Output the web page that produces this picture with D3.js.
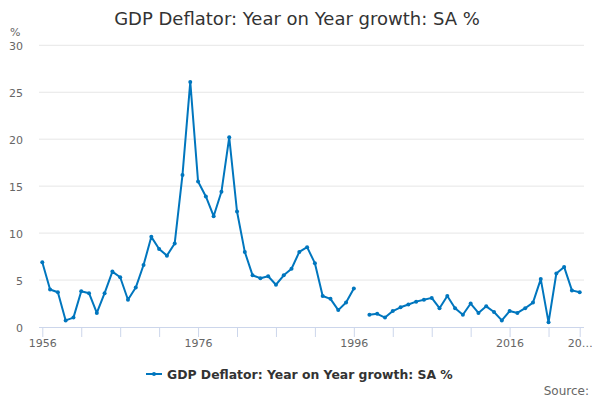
<!DOCTYPE html>
<html>
<head>
<meta charset="utf-8">
<script src="https://cdn.jsdelivr.net/npm/d3@7"></script>
<style>
  html, body { margin: 0; padding: 0; background: #fff; }
  svg { display: block; font-family: "DejaVu Sans", sans-serif; }
</style>
</head>
<body>
<svg id="chart" width="600" height="400"></svg>
<script>
const title = "GDP Deflator: Year on Year growth: SA %";
const seriesName = "GDP Deflator: Year on Year growth: SA %";
const years = d3.range(1956, 2026);
const values = [
  6.9, 4.0, 3.7, 0.7, 1.0, 3.8, 3.6, 1.5, 3.6, 5.9,
  5.3, 2.9, 4.2, 6.6, 9.6, 8.3, 7.6, 8.9, 16.2, 26.1,
  15.5, 13.9, 11.8, 14.4, 20.2, 12.3, 8.0, 5.5, 5.2, 5.4,
  4.5, 5.5, 6.2, 8.0, 8.5, 6.8, 3.3, 3.0, 1.8, 2.6,
  4.1, null, 1.3, 1.4, 1.0, 1.7, 2.1, 2.4, 2.7, 2.9,
  3.1, 2.0, 3.3, 2.0, 1.3, 2.5, 1.5, 2.2, 1.6, 0.7,
  1.7, 1.5, 2.0, 2.6, 5.1, 0.5, 5.7, 6.4, 3.9, 3.7
];
const yTicks = [0, 5, 10, 15, 20, 25, 30];
const xTicks = [1956, 1961, 1966, 1971, 1976, 1981, 1986, 1991, 1996, 2001, 2006, 2011, 2016, 2021, 2025];
const xLabels = {1956: "1956", 1976: "1976", 1996: "1996", 2016: "2016", 2025: "20…"};

const data = years.map((y, i) => ({year: y, value: values[i]}));
const svg = d3.select("#chart");
const color = "#0076BE";

const x = d3.scaleLinear().domain([1956, 2025]).range([42.3, 579.7]);
const y = d3.scaleLinear().domain([0, 30]).range([327, 45.3]);
const plotLeft = 39, plotRight = 584;

// gridlines
svg.append("g").selectAll("line").data(yTicks.filter(t => t > 0)).join("line")
  .attr("x1", plotLeft).attr("x2", plotRight)
  .attr("y1", d => y(d)).attr("y2", d => y(d))
  .attr("stroke", "#e6e6e6").attr("stroke-width", 1);

// y labels
svg.append("g").selectAll("text").data(yTicks).join("text")
  .attr("x", 23).attr("y", d => y(d) + 4.5)
  .attr("text-anchor", "end")
  .attr("font-size", 11).attr("fill", "#666")
  .text(d => d);

svg.append("text").attr("x", 10).attr("y", 36)
  .attr("font-size", 11).attr("fill", "#666").text("%");

// x axis
const xAxis = d3.axisBottom(x).tickValues(xTicks).tickSize(10).tickSizeOuter(0)
  .tickFormat(d => xLabels[d] || "");
const gx = svg.append("g").attr("transform", "translate(0,327)").call(xAxis);
gx.select(".domain").attr("d", `M${plotLeft},0.5H${plotRight}`).attr("stroke", "#ccd6eb");
gx.selectAll(".tick line").attr("stroke", "#ccd6eb");
gx.selectAll(".tick text").attr("font-family", "DejaVu Sans, sans-serif")
  .attr("font-size", 11).attr("fill", "#666").attr("y", 12).attr("dy", "0.71em");

// line
const line = d3.line().defined(d => d.value != null)
  .x(d => x(d.year)).y(d => y(d.value));
svg.append("path").datum(data).attr("d", line)
  .attr("fill", "none").attr("stroke", color).attr("stroke-width", 2)
  .attr("stroke-linejoin", "round").attr("stroke-linecap", "round");

svg.append("g").selectAll("circle").data(data.filter(d => d.value != null)).join("circle")
  .attr("cx", d => x(d.year)).attr("cy", d => y(d.value)).attr("r", 2)
  .attr("fill", color);

// title
svg.append("text").attr("x", 297).attr("y", 25).attr("text-anchor", "middle")
  .attr("font-size", 18).attr("fill", "#333").text(title);

// legend
const lg = svg.append("g");
lg.append("line").attr("x1", 146).attr("x2", 162).attr("y1", 374).attr("y2", 374)
  .attr("stroke", color).attr("stroke-width", 2);
lg.append("circle").attr("cx", 154).attr("cy", 374).attr("r", 2).attr("fill", color);
lg.append("text").attr("x", 167).attr("y", 378.5)
  .attr("font-size", 12.4).attr("font-weight", "bold").attr("fill", "#333").text(seriesName);

// source
svg.append("text").attr("x", 589).attr("y", 395).attr("text-anchor", "end")
  .attr("font-size", 12).attr("fill", "#666").text("Source:");
</script>
</body>
</html>
